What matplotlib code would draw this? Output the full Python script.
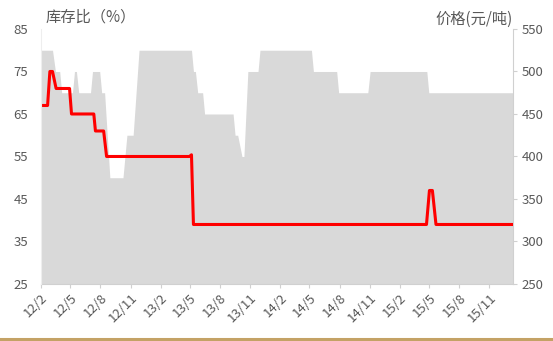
import datetime as dt
import matplotlib
matplotlib.use("Agg")
import matplotlib.pyplot as plt
from matplotlib.lines import Line2D

plt.rcParams['font.family'] = ['Noto Sans CJK SC', 'DejaVu Sans']

# price (right axis, grey area), corner points
price_dates = ["2012-02-01", "2012-03-08", "2012-03-17", "2012-03-30", "2012-04-05",
               "2012-05-08", "2012-05-14", "2012-05-20", "2012-05-27", "2012-07-02",
               "2012-07-08", "2012-07-30", "2012-08-05", "2012-08-14", "2012-08-30",
               "2012-10-09", "2012-10-21", "2012-11-09", "2012-11-27", "2013-05-06",
               "2013-05-12", "2013-05-18", "2013-05-25", "2013-06-09", "2013-06-15",
               "2013-09-10", "2013-09-16", "2013-09-24", "2013-10-07", "2013-10-13",
               "2013-10-25", "2013-11-25", "2013-12-01", "2014-05-07", "2014-05-13",
               "2014-07-23", "2014-07-29", "2014-10-26", "2014-11-02", "2015-04-24",
               "2015-04-30", "2016-01-12"]
price = [525, 525, 500, 500, 475,
         475, 500, 500, 475, 475,
         500, 500, 475, 475, 375,
         375, 425, 425, 525, 525,
         500, 500, 475, 475, 450,
         450, 425, 425, 400, 400,
         500, 500, 525, 525, 500,
         500, 475, 475, 500, 500,
         475, 475]

# inventory ratio (left axis, red line)
ratio_dates = ["2012-02-01", "2012-02-22", "2012-02-29", "2012-03-08", "2012-03-19",
               "2012-04-29", "2012-05-05", "2012-07-12", "2012-07-17", "2012-08-11",
               "2012-08-20", "2013-04-30", "2013-05-06", "2013-05-12", "2015-04-23",
               "2015-05-02", "2015-05-11", "2015-05-22", "2016-01-12"]
ratio = [67, 67, 75, 75, 71,
         71, 65, 65, 61, 61,
         55, 55, 55.4, 39, 39,
         47, 47, 39, 39]

tick_dates = ["2012-02-01", "2012-05-01", "2012-08-01", "2012-11-01",
              "2013-02-01", "2013-05-01", "2013-08-01", "2013-11-01",
              "2014-02-01", "2014-05-01", "2014-08-01", "2014-11-01",
              "2015-02-01", "2015-05-01", "2015-08-01", "2015-11-01"]
tick_labels = ["12/2", "12/5", "12/8", "12/11", "13/2", "13/5", "13/8", "13/11",
               "14/2", "14/5", "14/8", "14/11", "15/2", "15/5", "15/8", "15/11"]

to_dt = lambda lst: [dt.datetime.strptime(d, "%Y-%m-%d") for d in lst]
price_dates = to_dt(price_dates)
ratio_dates = to_dt(ratio_dates)
tick_dates = to_dt(tick_dates)

txt = "#595959"
axis_c = "#D0D0D0"

fig = plt.figure(figsize=(5.53, 3.41), dpi=100)
ax = fig.add_axes([0.0736, 0.1672, 0.8541, 0.7478])
ax2 = ax.twinx()

ax.fill_between(price_dates, price, 250, color="#D9D9D9", lw=0)
ax.set_ylim(250, 550)
ax.set_yticks([250, 300, 350, 400, 450, 500, 550])
ax.set_xlim(dt.datetime(2012, 2, 1), dt.datetime(2016, 1, 12))

ax2.plot(ratio_dates, ratio, color="#FF0000", lw=2.2, solid_joinstyle="round")
ax2.set_ylim(25, 85)
ax2.set_yticks([25, 35, 45, 55, 65, 75, 85])

# price scale on the right, ratio scale on the left
ax.yaxis.tick_right()
ax2.yaxis.tick_left()

for a in (ax, ax2):
    for s in a.spines.values():
        s.set_visible(False)

ax.spines["right"].set_visible(True)
ax.spines["right"].set_color(axis_c)
ax.spines["bottom"].set_visible(True)
ax.spines["bottom"].set_color(axis_c)
ax2.spines["left"].set_visible(True)
ax2.spines["left"].set_color("#EEEEEE")

ax.tick_params(axis="y", colors=axis_c, labelcolor=txt, labelsize=9.5,
               length=3, width=0.8, pad=3)
ax2.tick_params(axis="y", length=0, labelcolor=txt, labelsize=9.5, pad=9)
ax.tick_params(axis="x", colors=axis_c, labelcolor=txt, labelsize=9.5,
               length=3, width=0.8, pad=2)

ax.set_xticks(tick_dates)
ax.set_xticklabels(tick_labels, rotation=45, ha="right", va="top",
                   rotation_mode="anchor")

fig.text(46 / 553, 1 - 17 / 341, "库存比（%）", color=txt, fontsize=11,
         ha="left", va="center")
fig.text(513 / 553, 1 - 19 / 341, "价格(元/吨)", color=txt, fontsize=11,
         ha="right", va="center")

# golden bottom rule
fig.add_artist(Line2D([0, 1], [1 - 338.5 / 341] * 2, color="#C4A265", lw=2.2,
                      transform=fig.transFigure))

fig.savefig("out.png", dpi=100)
